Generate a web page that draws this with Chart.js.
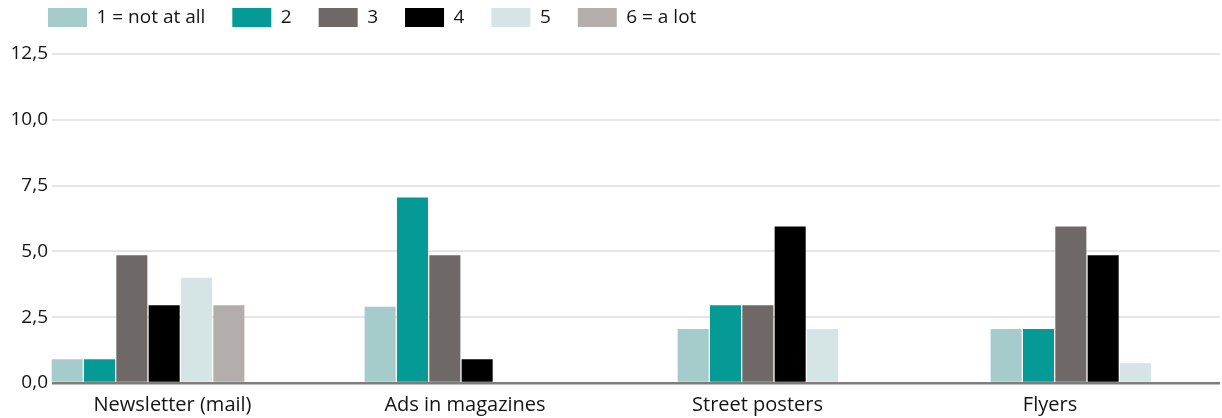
<!DOCTYPE html>
<html>
<head>
<meta charset="utf-8">
<script src="https://cdn.jsdelivr.net/npm/chart.js@4.4.1/dist/chart.umd.min.js"></script>
<style>
  html, body { margin: 0; padding: 0; background: #fff; overflow: hidden; }
  .chart-wrap { position: relative; width: 1222px; height: 418px; }
</style>
</head>
<body>
<div class="chart-wrap"><canvas id="mediaChart"></canvas></div>
<script>
// Categories and answer scale
const categories = ['Newsletter (mail)', 'Ads in magazines', 'Street posters', 'Flyers'];
const scaleLabels = ['1 = not at all', '2', '3', '4', '5', '6 = a lot'];

// Values per answer, one entry per category (null = no bar)
const answer1 = [0.9, 2.9, 2.05, 2.05];
const answer2 = [0.9, 7.05, 2.95, 2.05];
const answer3 = [4.85, 4.85, 2.95, 5.95];
const answer4 = [2.95, 0.9, 5.95, 4.85];
const answer5 = [4.0, null, 2.05, 0.75];
const answer6 = [2.95, null, null, null];

const yTicks = [0, 2.5, 5, 7.5, 10, 12.5];

const barColors = ['#a6cbcb', '#069a96', '#6e6966', '#000000', '#d5e4e4', '#b3aeac'];

Chart.defaults.font.family = "'Open Sans', 'Noto Sans', sans-serif";
Chart.defaults.font.size = 19;
Chart.defaults.color = '#141414';

// legend sits a bit right of the canvas edge, with more room under it.
// bar bands (x) are wider than the plot so groups start at the y axis,
// the label axis (xLabels) is shifted a bit left like in the original
const layoutTweak = {
    id: 'layoutTweak',
    beforeLayout(chart) {
        const lg = chart.legend;
        if (lg && !lg._patched) {
            const fit = lg.fit;
            lg.fit = function () {
                fit.call(this);
                this.height += 17;
            };
            lg._patched = true;
        }
    },
    afterLayout(chart) {
        if (chart.legend) {
            chart.legend.left += 21;
            chart.legend.right += 21;
        }
        const area = chart.chartArea;
        const xs = chart.scales.x;
        xs.left = area.left - 60.5;
        xs.right = area.right + 23.5;
        xs.width = xs.right - xs.left;
        xs.configure();
        const xl = chart.scales.xLabels;
        xl.left = area.left - 25.75;
        xl.right = area.right - 23.75;
        xl.width = xl.right - xl.left;
        xl.configure();
    }
};

const allAnswers = [answer1, answer2, answer3, answer4, answer5, answer6];

const mediaData = {
    labels: categories,
    datasets: allAnswers.map((vals, i) => ({
        label: scaleLabels[i],
        data: vals,
        backgroundColor: barColors[i],
        borderWidth: 0,
        categoryPercentage: 0.62,
        barPercentage: 0.96
    }))
};

const mediaOptions = {
    responsive: true,
    maintainAspectRatio: false,
    animation: false,
    layout: {
        padding: { top: -19, left: 0, right: 2, bottom: -9 }
    },
    scales: {
        x: {
            grid: { display: false, drawTicks: false },
            border: { display: false },
            ticks: { display: false }
        },
        xLabels: {
            type: 'category',
            position: 'bottom',
            grid: { display: false, drawTicks: false },
            border: { display: false },
            ticks: {
                padding: 8,
                font: { size: 20, lineHeight: 1.4 }
            }
        },
        y: {
            min: 0,
            max: 12.5,
            afterBuildTicks: (scale) => {
                scale.ticks = yTicks.map(v => ({ value: v }));
            },
            afterFit: (scale) => {
                scale.width = 52;
            },
            grid: {
                drawTicks: false,
                lineWidth: (ctx) => (ctx.tick && ctx.tick.value === 0) ? 2.5 : 2,
                color: (ctx) => (ctx.tick && ctx.tick.value === 0) ? '#7d7d7d' : '#e5e5e5'
            },
            border: { display: false },
            ticks: {
                padding: 4,
                font: { size: 19 },
                callback: (v) => Number(v).toFixed(1).replace('.', ',')
            }
        }
    },
    plugins: {
        legend: {
            position: 'top',
            align: 'start',
            labels: {
                boxWidth: 39,
                boxHeight: 19,
                padding: 27,
                font: { size: 19 },
                color: '#141414'
            }
        },
        tooltip: { enabled: false }
    }
};

const mediaChart = document.getElementById('mediaChart');
if (mediaChart) {
    new Chart(mediaChart, {
        type: 'bar',
        data: mediaData,
        options: mediaOptions,
        plugins: [layoutTweak]
    });
}
</script>
</body>
</html>
